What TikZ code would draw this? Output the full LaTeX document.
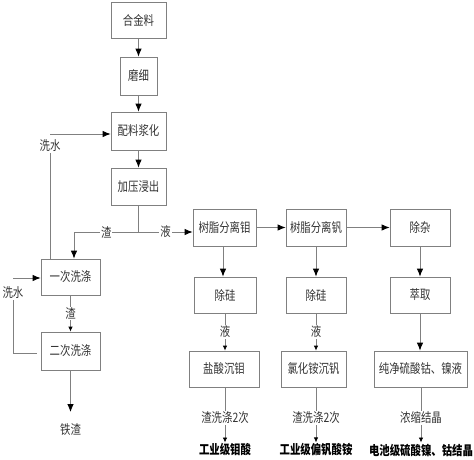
\documentclass[tikz,border=0pt]{standalone}
\usepackage{fontspec}
\newfontfamily\cjk[FakeStretch=0.8]{Noto Sans CJK SC}
\usetikzlibrary{arrows.meta}
\definecolor{linec}{HTML}{808080}
\definecolor{txtc}{HTML}{333333}
\begin{document}
\begin{tikzpicture}[x=1pt,y=-1pt,
  box/.style={draw=linec, line width=0.8pt, inner sep=0pt, text=txtc,
    font=\cjk\fontsize{13}{14}\selectfont},
  txt/.style={inner sep=1pt, text=txtc, font=\cjk\fontsize{13}{14}\selectfont},
  res/.style={inner sep=1pt, text=black, font=\cjk\bfseries\fontsize{13}{14}\selectfont},
  lbl/.style={fill=white, inner sep=1pt, text=txtc, font=\cjk\fontsize{13}{14}\selectfont},
  ln/.style={draw=linec, line width=0.8pt},
  arr/.style={ln, -{Latex[length=8pt,width=6.5pt,color=black]}},
  sarr/.style={ln, -{Latex[length=5pt,width=4.5pt,color=black]}}]
\useasboundingbox (0,0) rectangle (474,459);
% left column
\node[box, minimum width=55, minimum height=36] (n1) at (138.5,20) {合金料};
\node[box, minimum width=37, minimum height=38] (n2) at (138.5,76) {磨细};
\node[box, minimum width=55, minimum height=38] (n3) at (138.5,131) {配料浆化};
\node[box, minimum width=55, minimum height=37] (n4) at (138.5,186.5) {加压浸出};
\node[box, minimum width=59, minimum height=36] (w1) at (70.5,277) {一次洗涤};
\node[box, minimum width=59, minimum height=38] (w2) at (70.5,351) {二次洗涤};
\node[txt] (fe) at (70.5,430) {铁渣};
\node[txt] (xs1) at (50,146) {洗水};
\node[txt] (xs2) at (13,293) {洗水};
% right columns
\node[box, minimum width=63, minimum height=37] (m1) at (224.5,227.5) {树脂分离钼};
\node[box, minimum width=60, minimum height=37] (v1) at (316,227.5) {树脂分离钒};
\node[box, minimum width=60, minimum height=37] (z1) at (420,227.5) {除杂};
\node[box, minimum width=62, minimum height=36] (s1) at (225,295) {除硅};
\node[box, minimum width=60, minimum height=36] (s2) at (316,295) {除硅};
\node[box, minimum width=60, minimum height=36] (e1) at (420,295) {萃取};
\node[box, minimum width=70, minimum height=36] (p1) at (224,369) {盐酸沉钼};
\node[box, minimum width=65, minimum height=36] (p2) at (313.5,369) {氯化铵沉钒};
\node[box, minimum width=93, minimum height=36] (p3) at (420.5,369) {纯净硫酸钴、镍液};
\node[res] (r1) at (225,450) {工业级钼酸};
\node[res] (r2) at (316,450) {工业级偏钒酸铵};
\node[res] (r3) at (421,450) {电池级硫酸镍、钴结晶};
% coordinates
\coordinate (j) at (138.5,232);
\coordinate (c1) at (50,134);
\coordinate (c2) at (13,278);
\coordinate (c3) at (37,353);
\coordinate (c4) at (70.5,412);
% connectors left
\draw[arr] (n1) -- (n2);
\draw[arr] (n2) -- (n3);
\draw[arr] (n3) -- (n4);
\draw[ln] (n4.south) -- (j);
\draw[arr] (j) -- node[lbl]{液} (j -| m1.west);
\draw[arr] (j) -| node[lbl, pos=0.25]{渣} (w1.north -| 74,0);
\draw[arr] (c1) -- (c1 -| n3.west);
\draw[ln] (xs1.south) -- (xs1.south |- w1.north);
\draw[arr] (c2) -- (c2 -| w1.west);
\draw[ln] (xs2.south) |- (c3);
\draw[sarr] (w1.south) -- node[lbl]{渣} (w2.north);
\draw[arr] (w2.south) -- (c4);
% connectors right
\draw[arr] (m1) -- (v1);
\draw[arr] (v1) -- (z1);
\draw[arr] (m1.south -| 223,0) -- (s1.north -| 223,0);
\draw[arr] (v1) -- (s2);
\draw[arr] (z1) -- (e1);
\draw[sarr] (s1) -- node[lbl]{液} (p1.north -| s1);
\draw[sarr] (s2) -- node[lbl]{液} (p2.north -| s2);
\draw[arr] (e1) -- (p3.north -| e1);
\draw[sarr] (p1.south -| r1) -- node[lbl, pos=0.55]{渣洗涤2次} (r1.north);
\draw[sarr] (p2.south -| r2) -- node[lbl, pos=0.55]{渣洗涤2次} (r2.north);
\draw[sarr] (p3.south -| r3) -- node[lbl, pos=0.55]{浓缩结晶} (r3.north);
\end{tikzpicture}
\end{document}
